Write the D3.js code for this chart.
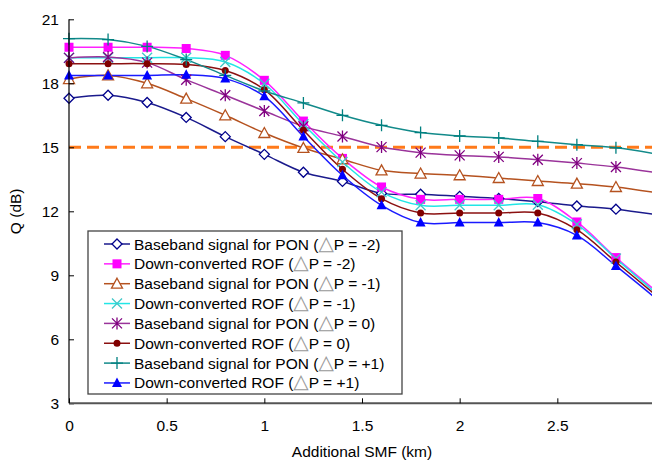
<!DOCTYPE html>
<html><head><meta charset="utf-8">
<script src="https://cdnjs.cloudflare.com/ajax/libs/d3/7.8.5/d3.min.js"></script>
<style>body{margin:0;background:#fff;} svg{display:block;font-family:"Liberation Sans",Arial,sans-serif;}</style>
</head><body>
<svg id="c" width="652" height="462"></svg>
<script>
const xValues = [0,0.2,0.4,0.6,0.8,1.0,1.2,1.4,1.6,1.8,2.0,2.2,2.4,2.6,2.8,3.0];
const bbM2 = [17.3,17.44,17.1,16.4,15.5,14.67,13.83,13.4,12.84,12.8,12.7,12.6,12.45,12.25,12.1,11.85];
const rofM2 = [19.69,19.69,19.69,19.63,19.31,18.14,16.23,14.48,13.14,12.56,12.56,12.56,12.6,11.5,9.83,8.3];
const bbM1 = [18.2,18.37,18.0,17.28,16.5,15.67,14.97,14.44,13.92,13.77,13.69,13.56,13.42,13.3,13.14,12.88];
const rofM1 = [19.2,19.2,19.2,19.2,19.0,17.98,16.08,14.31,12.9,12.28,12.28,12.28,12.31,11.39,9.78,8.2];
const bb0 = [19.19,19.23,18.97,18.17,17.44,16.7,15.98,15.51,15.01,14.75,14.62,14.55,14.42,14.26,14.08,13.82];
const rof0 = [18.92,18.92,18.92,18.88,18.6,17.7,15.8,13.97,12.59,11.92,11.92,11.92,11.92,11.14,9.62,8.1];
const bbP1 = [20.09,20.05,19.73,19.11,18.37,17.64,17.08,16.5,16.03,15.69,15.53,15.44,15.28,15.12,14.98,14.7];
const rofP1 = [18.37,18.37,18.37,18.4,18.22,17.39,15.51,13.69,12.28,11.47,11.47,11.47,11.47,10.87,9.44,7.95];
const thresholdQ = 15;
const yTicks = [3,6,9,12,15,18,21];
const xTicks = [0,0.5,1,1.5,2,2.5];
const xTickLabels = ["0","0.5","1","1.5","2","2.5"];
const legendLabels = [
  "Baseband signal for PON (△P = -2)",
  "Down-converted ROF (△P = -2)",
  "Baseband signal for PON (△P = -1)",
  "Down-converted ROF (△P = -1)",
  "Baseband signal for PON (△P = 0)",
  "Down-converted ROF (△P = 0)",
  "Baseband signal for PON (△P = +1)",
  "Down-converted ROF (△P = +1)"
];
const seriesData = [bbM2, rofM2, bbM1, rofM1, bb0, rof0, bbP1, rofP1];
const lineColors = ["#1a1a8c","#ff22ff","#b5521f","#22e6e6","#9a339a","#8b1010","#128a8a","#1a1aff"];
const markerColors = ["#00008b","#ff00ff","#b5521f","#40c8c8","#800080","#800000","#008080","#0000ff"];
const markerTypes = ["diamond","square","triangle","x","asterisk","dot","plus","filledTriangle"];
const markerX = [0,0.2,0.4,0.6,0.8,1.0,1.2,1.4,1.6,1.8,2.0,2.2,2.4,2.6,2.8];

const svg = d3.select("#c");
const x = d3.scaleLinear().domain([0,3]).range([69,655]);
const y = d3.scaleLinear().domain([3,21]).range([403.3,19.3]);

svg.append("line").attr("x1",x(0)).attr("x2",652).attr("y1",y(thresholdQ)).attr("y2",y(thresholdQ))
  .attr("stroke","#ff7a1a").attr("stroke-width",3).attr("stroke-dasharray","12,6");

function drawMarker(g, type, cx, cy, color){
  switch(type){
    case "diamond":
      g.append("path").attr("d",`M${cx},${cy-5}L${cx+5},${cy}L${cx},${cy+5}L${cx-5},${cy}Z`)
        .attr("fill","#fff").attr("stroke",color).attr("stroke-width",1.3); break;
    case "square":
      g.append("rect").attr("x",cx-4.5).attr("y",cy-4.5).attr("width",9).attr("height",9).attr("fill",color); break;
    case "triangle":
      g.append("path").attr("d",`M${cx},${cy-5.5}L${cx+5.5},${cy+4.5}L${cx-5.5},${cy+4.5}Z`)
        .attr("fill","#fff").attr("stroke",color).attr("stroke-width",1.3); break;
    case "filledTriangle":
      g.append("path").attr("d",`M${cx},${cy-5.5}L${cx+5},${cy+4}L${cx-5},${cy+4}Z`).attr("fill",color); break;
    case "x":
      g.append("path").attr("d",`M${cx-5},${cy-5}L${cx+5},${cy+5}M${cx-5},${cy+5}L${cx+5},${cy-5}`)
        .attr("stroke",color).attr("stroke-width",1.3); break;
    case "asterisk":
      g.append("path").attr("d",`M${cx-5},${cy-5}L${cx+5},${cy+5}M${cx-5},${cy+5}L${cx+5},${cy-5}M${cx},${cy-6}L${cx},${cy+6}`)
        .attr("stroke",color).attr("stroke-width",1.3); break;
    case "dot":
      g.append("circle").attr("cx",cx).attr("cy",cy).attr("r",3.5).attr("fill",color); break;
    case "plus":
      g.append("path").attr("d",`M${cx-6},${cy}L${cx+6},${cy}M${cx},${cy-6}L${cx},${cy+6}`)
        .attr("stroke",color).attr("stroke-width",1.3); break;
  }
}

const line = d3.line().x((d,i)=>x(xValues[i])).y(d=>y(d)).curve(d3.curveCatmullRom.alpha(0.5));
const plot = svg.append("g");
seriesData.forEach((s,k)=>{
  plot.append("path").attr("d",line(s)).attr("fill","none").attr("stroke",lineColors[k]).attr("stroke-width",1.5);
});
seriesData.forEach((s,k)=>{
  const g = plot.append("g");
  markerX.forEach((xv,i)=> drawMarker(g, markerTypes[k], x(xv), y(s[i]), markerColors[k]));
});

const yAxis = d3.axisLeft(y).tickValues(yTicks).tickSize(-5).tickPadding(10).tickFormat(d3.format("d"));
const gy = svg.append("g").attr("transform",`translate(${x(0)},0)`).call(yAxis);
gy.select(".domain").attr("d",`M0,${y(21)}V${y(3)}`).attr("stroke","#000").attr("stroke-width",1.2);
gy.selectAll(".tick text").attr("font-size",15.5).attr("fill","#000");
gy.selectAll(".tick line").attr("stroke","#000");

const xAxis = d3.axisBottom(x).tickValues(xTicks).tickSize(-5).tickPadding(17).tickFormat((d,i)=>xTickLabels[i]);
const gx = svg.append("g").attr("transform",`translate(0,${y(3)})`).call(xAxis);
gx.select(".domain").attr("d",`M${x(0)},0H652`).attr("stroke","#555").attr("stroke-width",2);
gx.selectAll(".tick text").attr("font-size",15.5).attr("fill","#000");
gx.selectAll(".tick line").attr("stroke","#000");

svg.append("text").attr("x",x(1.5)).attr("y",457).attr("text-anchor","middle").attr("font-size",15.5).text("Additional SMF (km)");
svg.append("text").attr("transform",`translate(21,${y(12)}) rotate(-90)`).attr("text-anchor","middle").attr("font-size",15.5).text("Q (dB)");

const lg = svg.append("g");
lg.append("rect").attr("x",88).attr("y",231).attr("width",314).attr("height",163).attr("fill","#fff").attr("stroke","#444").attr("stroke-width",1.3);
legendLabels.forEach((lab,k)=>{
  const yy = 244 + k*19.85;
  lg.append("line").attr("x1",104).attr("x2",130).attr("y1",yy).attr("y2",yy).attr("stroke",lineColors[k]).attr("stroke-width",1.5);
  drawMarker(lg, markerTypes[k], 117, yy, markerColors[k]);
  const t = lg.append("text").attr("x",134).attr("y",yy+5.5).attr("font-size",15.5);
  const parts = lab.split("△");
  t.append("tspan").text(parts[0]);
  t.append("tspan").attr("fill","#999").attr("font-size",20).attr("font-family","DejaVu Sans").text("△");
  t.append("tspan").text(parts[1]);
});
</script>
</body></html>
